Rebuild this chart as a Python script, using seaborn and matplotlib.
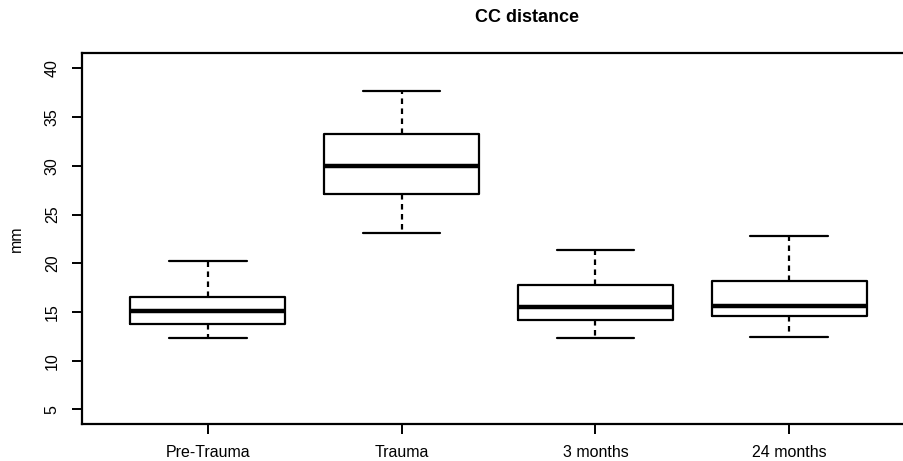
import matplotlib
matplotlib.use("Agg")
import matplotlib.pyplot as plt
import seaborn as sns
import pandas as pd

# ========== DATA ==========
groups = ["Pre-Trauma", "Trauma", "3 months", "24 months"]
whisker_low = [12.3, 23.1, 12.3, 12.4]
q1 = [13.8, 27.1, 14.15, 14.6]
median = [15.1, 30.0, 15.5, 15.6]
q3 = [16.5, 33.3, 17.8, 18.2]
whisker_high = [20.2, 37.7, 21.4, 22.8]
y_ticks = [5, 10, 15, 20, 25, 30, 35, 40]

# five-number summary per group -> seaborn draws the boxes from it
rows = []
for g, lo, a, m, b, hi in zip(groups, whisker_low, q1, median, q3, whisker_high):
    for v in (lo, a, m, b, hi):
        rows.append({"group": g, "mm": v})
df = pd.DataFrame(rows)

sns.set_style("white")
plt.rcParams["font.family"] = ["Liberation Sans", "DejaVu Sans"]
plt.rcParams["text.color"] = "black"
plt.rcParams["axes.labelcolor"] = "black"

fig = plt.figure(figsize=(9.04, 4.61), dpi=100)
ax = fig.add_axes([0.0907, 0.0803, 0.9237, 0.805])

sns.boxplot(data=df, x="group", y="mm", order=groups, whis=(0, 100),
            width=0.8, fill=False, color="black", linewidth=1.6,
            medianprops=dict(linewidth=3.2, color="black"),
            whiskerprops=dict(linestyle=(0, (2.5, 2)), linewidth=1.6),
            capprops=dict(linewidth=1.6), showfliers=False, ax=ax)

ax.set_xlim(-0.65, 3.66)
ax.set_ylim(3.5, 41.6)
ax.set_yticks(y_ticks)
ax.set_yticklabels([str(t) for t in y_ticks], rotation=90, va="center")
for s in ax.spines.values():
    s.set_color("black")
    s.set_linewidth(1.6)
ax.tick_params(axis="both", bottom=True, left=True, direction="out",
               length=7, width=1.4, color="black", labelsize=11.5,
               labelcolor="black")
ax.tick_params(axis="x", pad=8)
ax.tick_params(axis="y", pad=9)
ax.set_xlabel("")
ax.set_ylabel("mm", fontsize=11.5, labelpad=15, color="black")
fig.text(0.583, 0.962, "CC distance", ha="center", va="center",
         fontsize=13, fontweight="bold", color="black")

fig.savefig("out.png", dpi=100)
